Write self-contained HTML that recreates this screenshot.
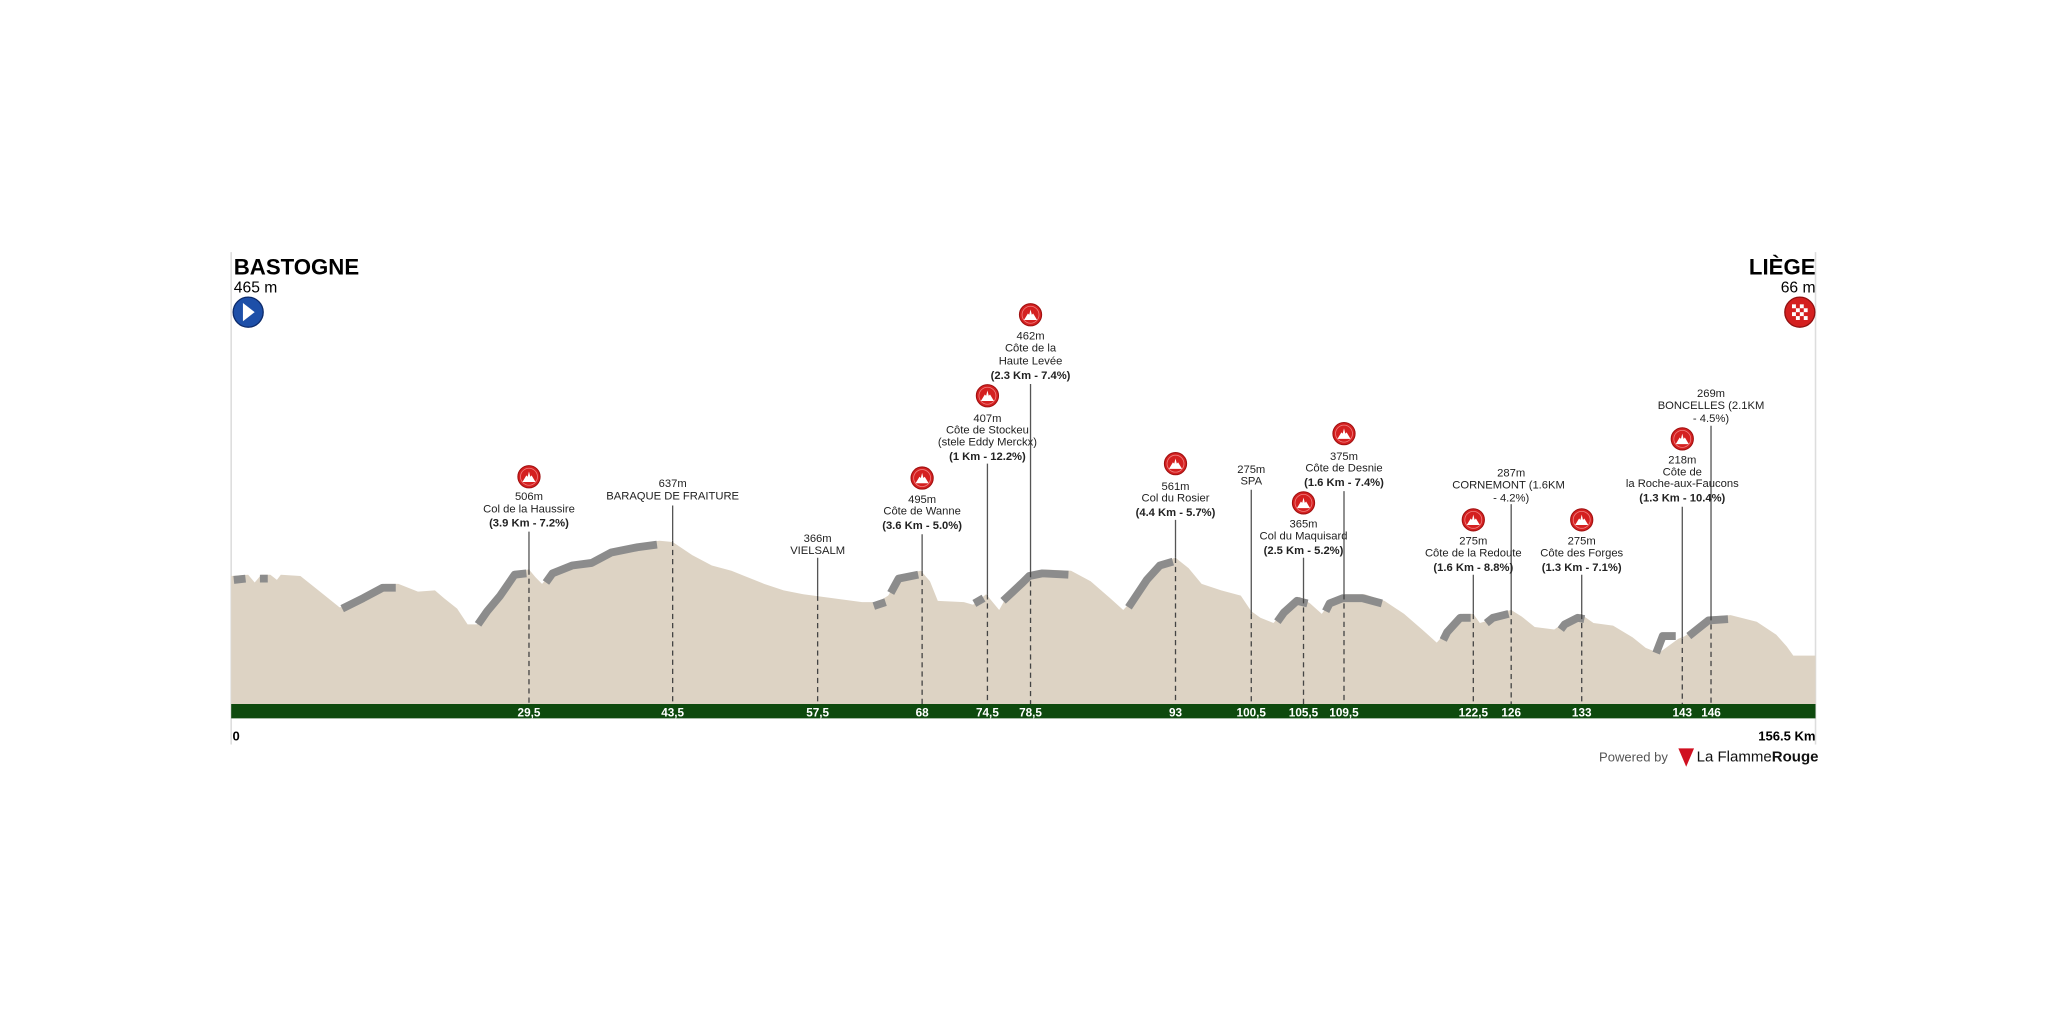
<!DOCTYPE html>
<html><head><meta charset="utf-8"><style>
html,body{margin:0;padding:0;background:#fff;}
svg{display:block;}
text{font-family:"Liberation Sans Narrow","Liberation Sans",sans-serif;font-size:8.6px;fill:#222;}
.b{font-weight:bold;}
.km{fill:#fff;font-weight:bold;font-size:9px;}
</style></head><body>
<svg width="2048" height="1024" viewBox="0 0 1568 784" xmlns="http://www.w3.org/2000/svg">
<defs>
<g id="mt"><circle r="8.5" fill="#d42020" stroke="#a01010" stroke-width="0.8"/><circle r="6.5" fill="none" stroke="#f08080" stroke-width="0.6"/><path d="M-5,4 L-2,-1 L-1,0 L0,-4 L1,0 L2,-1 L5,4 Z" fill="#fff"/></g>
</defs>
<path d="M177,193 V570 M1390,193 V570" stroke="#ddd" stroke-width="1.2" fill="none"/>
<path d="M177,539 L177,441 190,440 195,446 200,440 207,440 212,444 215,440 230,441 245,453 260,465 268,464 280,455 295,447 305,447 320,453 333,452 340,458 350,466 358,478 365,478 375,467 385,455 396,437 405,436 410,442 415,447 425,436 440,430 455,428 470,420 490,416 505,414 515,415 530,425 545,433 560,437 570,441 585,447 600,452 615,455 630,457 645,459 660,461 672,461 680,456 690,440 705,437 712,445 718,460 738,461 745,463 755,455 765,467 770,458 785,443 790,438 800,436 820,437 835,445 850,458 860,467 870,456 880,441 890,430 900,427 910,435 920,447 935,452 950,456 958,468 965,473 975,477 985,466 995,457 1003,462 1012,470 1020,459 1030,455 1045,455 1060,460 1075,470 1090,483 1100,492 1110,481 1120,470 1128,470 1133,477 1140,475 1145,470 1157,467 1165,472 1175,480 1190,482 1200,475 1210,470 1220,477 1235,479 1250,488 1260,496 1270,500 1285,489 1290,487 1300,480 1310,472 1325,471 1345,476 1360,486 1368,495 1373,502 1390,502 1390,539 Z" fill="#ddd3c4"/>
<g stroke="#8c8c8c" stroke-width="6" fill="none" stroke-linejoin="round" transform="translate(-2,2)">
<path d="M181,442 L190,441 M201,441 L207,441"/>
<path d="M264,464 L280,456 295,448 305,448"/>
<path d="M368,476 L375,466 385,454 396,438 405,437"/>
<path d="M420,444 L425,437 440,431 455,429 470,421 490,417 505,415"/>
<path d="M671,462 L680,459 M684,452 L690,441 705,438"/>
<path d="M748,460 L755,456"/>
<path d="M770,458 L785,444 790,439 800,437 820,438"/>
<path d="M866,463 L870,457 880,442 890,431 900,428"/>
<path d="M980,474 L985,467 995,458 1003,460"/>
<path d="M1017,466 L1020,460 1030,456 1045,456 1060,460"/>
<path d="M1107,488 L1110,482 1120,471 1128,471"/>
<path d="M1140,475 L1145,471 1157,468"/>
<path d="M1197,480 L1200,476 1210,471 1215,472"/>
<path d="M1270,498 L1275,485 1285,485 M1295,485 L1300,481 1310,473 1325,472"/>
</g>
<rect x="177" y="539" width="1213" height="11" fill="#0e4a0e"/>
<g text-anchor="middle">
<text x="405" y="548.5" class="km">29,5</text><text x="515" y="548.5" class="km">43,5</text><text x="626" y="548.5" class="km">57,5</text><text x="706" y="548.5" class="km">68</text><text x="756" y="548.5" class="km">74,5</text><text x="789" y="548.5" class="km">78,5</text><text x="900" y="548.5" class="km">93</text><text x="958" y="548.5" class="km">100,5</text><text x="998" y="548.5" class="km">105,5</text><text x="1029" y="548.5" class="km">109,5</text><text x="1128" y="548.5" class="km">122,5</text><text x="1157" y="548.5" class="km">126</text><text x="1211" y="548.5" class="km">133</text><text x="1288" y="548.5" class="km">143</text><text x="1310" y="548.5" class="km">146</text>
</g>
<g stroke="#555" stroke-width="1" fill="none">
<path d="M405,407V436 M515,387V414 M626,427V456 M706,409V437 M756,355V455 M789,294V438 M900,398V427 M958,375V470 M998,427V458 M1029,376V455 M1157,386V467 M1128,440V470 M1211,440V470 M1288,388V489 M1310,326V471"/>
</g>
<g stroke="#444" stroke-width="1" stroke-dasharray="4,3" fill="none">
<path d="M405,436V539 M515,414V539 M626,456V539 M706,437V539 M756,455V539 M789,438V539 M900,427V539 M958,470V539 M998,458V539 M1029,455V539 M1157,467V539 M1128,470V539 M1211,470V539 M1288,489V539 M1310,471V539"/>
</g>
<use href="#mt" x="405" y="365"/><use href="#mt" x="706" y="366"/><use href="#mt" x="756" y="303"/><use href="#mt" x="789" y="241"/><use href="#mt" x="900" y="355"/><use href="#mt" x="998" y="385"/><use href="#mt" x="1029" y="332"/><use href="#mt" x="1128" y="398"/><use href="#mt" x="1211" y="398"/><use href="#mt" x="1288" y="336"/>
<g text-anchor="middle">
<text x="405" y="383">506m</text><text x="405" y="392.5">Col de la Haussire</text><text x="405" y="403" class="b">(3.9 Km - 7.2%)</text>
<text x="515" y="373">637m</text><text x="515" y="382.5">BARAQUE DE FRAITURE</text>
<text x="626" y="415">366m</text><text x="626" y="424">VIELSALM</text>
<text x="706" y="385">495m</text><text x="706" y="394">Côte de Wanne</text><text x="706" y="405" class="b">(3.6 Km - 5.0%)</text>
<text x="756" y="323">407m</text><text x="756" y="332">Côte de Stockeu</text><text x="756" y="341">(stele Eddy Merckx)</text><text x="756" y="352" class="b">(1 Km - 12.2%)</text>
<text x="789" y="260">462m</text><text x="789" y="269">Côte de la</text><text x="789" y="279">Haute Levée</text><text x="789" y="290" class="b">(2.3 Km - 7.4%)</text>
<text x="900" y="375">561m</text><text x="900" y="384">Col du Rosier</text><text x="900" y="395" class="b">(4.4 Km - 5.7%)</text>
<text x="958" y="362">275m</text><text x="958" y="371">SPA</text>
<text x="998" y="404">365m</text><text x="998" y="413">Col du Maquisard</text><text x="998" y="424" class="b">(2.5 Km - 5.2%)</text>
<text x="1029" y="352">375m</text><text x="1029" y="361">Côte de Desnie</text><text x="1029" y="372" class="b">(1.6 Km - 7.4%)</text>
<text x="1157" y="365">287m</text><text x="1155" y="374">CORNEMONT (1.6KM</text><text x="1157" y="384">- 4.2%)</text>
<text x="1128" y="417">275m</text><text x="1128" y="426">Côte de la Redoute</text><text x="1128" y="437" class="b">(1.6 Km - 8.8%)</text>
<text x="1211" y="417">275m</text><text x="1211" y="426">Côte des Forges</text><text x="1211" y="437" class="b">(1.3 Km - 7.1%)</text>
<text x="1288" y="355">218m</text><text x="1288" y="364">Côte de</text><text x="1288" y="373">la Roche-aux-Faucons</text><text x="1288" y="384" class="b">(1.3 Km - 10.4%)</text>
<text x="1310" y="304">269m</text><text x="1310" y="313">BONCELLES (2.1KM</text><text x="1310" y="323">- 4.5%)</text>
</g>
<text x="179" y="210" style="font-family:'Liberation Sans',sans-serif;font-weight:bold;font-size:17px;fill:#000">BASTOGNE</text>
<text x="179" y="224" style="font-family:'Liberation Sans',sans-serif;font-size:12px;fill:#000">465 m</text>
<circle cx="190" cy="239" r="11.5" fill="#1d4fa8" stroke="#0c2a6a" stroke-width="1"/>
<path d="M186,232 L195,239 L186,246 Z" fill="#fff"/>
<text x="1390" y="210" text-anchor="end" style="font-family:'Liberation Sans',sans-serif;font-weight:bold;font-size:17px;fill:#000">LIÈGE</text>
<text x="1390" y="224" text-anchor="end" style="font-family:'Liberation Sans',sans-serif;font-size:12px;fill:#000">66 m</text>
<circle cx="1378" cy="239" r="11.5" fill="#d42020" stroke="#901010" stroke-width="1"/>
<g fill="#fff">
<rect x="1372" y="233" width="3" height="3"/><rect x="1378" y="233" width="3" height="3"/><rect x="1375" y="236" width="3" height="3"/><rect x="1381" y="236" width="3" height="3"/><rect x="1372" y="239" width="3" height="3"/><rect x="1378" y="239" width="3" height="3"/><rect x="1375" y="242" width="3" height="3"/><rect x="1381" y="242" width="3" height="3"/>
</g>
<text x="178" y="567" class="b" style="font-size:10px;fill:#000">0</text>
<text x="1390" y="567" text-anchor="end" class="b" style="font-size:10px;fill:#000">156.5 Km</text>
<text x="1277" y="583" text-anchor="end" style="font-family:'Liberation Sans',sans-serif;font-size:10px;fill:#555">Powered by</text>
<path d="M1285,573 L1297,573 L1291,587 Z" fill="#d01020"/>
<text x="1299" y="583" style="font-family:'Liberation Sans',sans-serif;font-size:11.5px;fill:#111">La Flamme<tspan font-weight="bold">Rouge</tspan></text>
</svg>
</body></html>
